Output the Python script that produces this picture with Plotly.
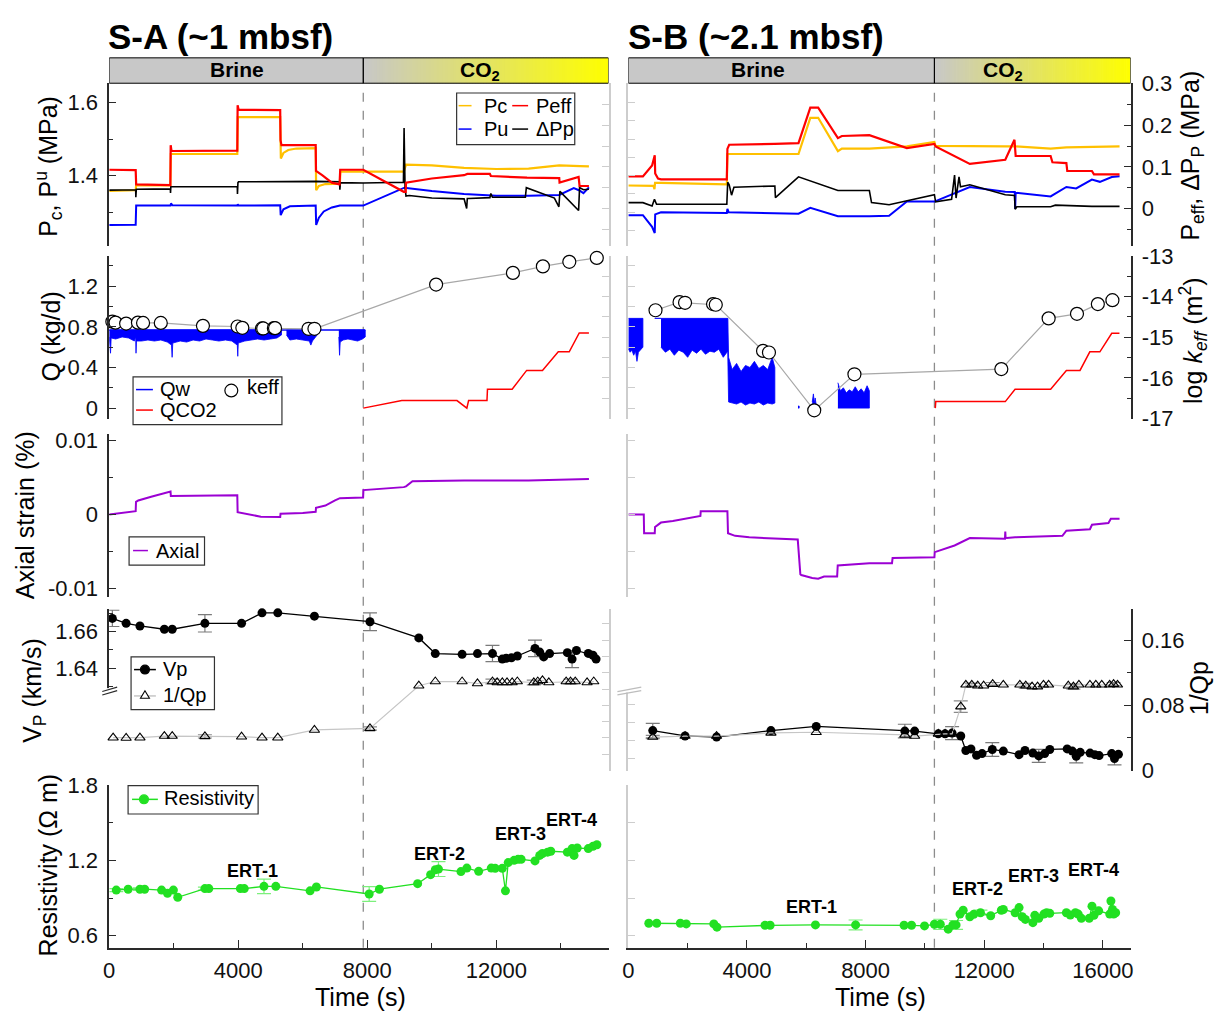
import plotly.graph_objects as go

# ------------------------------------------------------------------
# Sample S-A (~1 mbsf)
# ------------------------------------------------------------------
# confining pressure Pc and upstream pore pressure Pu (MPa)
PcA_t = [0, 820, 835, 1895, 1910, 3970, 3985, 5300, 5320, 5400, 5550, 5800, 6400, 6415, 6500, 6700,
         7150, 7165, 7875, 9130, 9200, 10000, 11000, 12000, 13000, 13950, 14600, 14870]
PcA = [1.358, 1.360, 1.374, 1.373, 1.459, 1.459, 1.560, 1.560, 1.447, 1.462, 1.470, 1.474, 1.475, 1.360,
       1.372, 1.377, 1.378, 1.411, 1.411, 1.411, 1.430, 1.428, 1.421, 1.418, 1.419, 1.428, 1.426, 1.425]
PuA_t = [0, 820, 835, 1900, 1915, 1960, 3975, 3985, 4000, 5300, 5315, 5400, 5600, 6400, 6415, 6500,
         6650, 6900, 7150, 7875, 9150, 10000, 11000, 12000, 13000, 13950, 14400, 14560, 14700, 14870]
PuA = [1.265, 1.266, 1.318, 1.318, 1.324, 1.319, 1.318, 1.322, 1.318, 1.319, 1.292, 1.308, 1.316, 1.318,
       1.265, 1.285, 1.302, 1.313, 1.318, 1.318, 1.367, 1.358, 1.350, 1.345, 1.345, 1.347, 1.366, 1.360,
       1.352, 1.368]
# effective pressure Peff and differential pore pressure dPp (MPa)
PeffA_t = [0, 820, 835, 1895, 1905, 1930, 3970, 3980, 4010, 5300, 5310, 5340, 6400, 6410, 6600, 6900,
           7140, 7160, 7875, 9130, 9190, 9200, 10000, 11000, 11100, 11800, 11830, 12900, 12950, 13950,
           13960, 14550, 14580, 14870]
PeffA = [0.093, 0.092, 0.058, 0.056, 0.152, 0.138, 0.139, 0.248, 0.237, 0.236, 0.164, 0.152, 0.152,
         0.090, 0.080, 0.062, 0.058, 0.093, 0.093, 0.040, 0.040, 0.062, 0.072, 0.080, 0.083, 0.083,
         0.078, 0.075, 0.074, 0.073, 0.062, 0.076, 0.054, 0.054]
dPpA_t = [0, 820, 825, 840, 1895, 1900, 1910, 3970, 3975, 3990, 4010, 5300, 6400, 7140, 7150, 7165,
          7875, 9120, 9140, 9170, 9200, 9300, 10000, 11000, 11080, 11100, 11150, 11800, 11830, 11880,
          12900, 12930, 13800, 13940, 13970, 14550, 14580, 14700, 14870]
dPpA = [0.044, 0.045, 0.027, 0.046, 0.047, 0.037, 0.052, 0.052, 0.035, 0.062, 0.064, 0.065, 0.065,
        0.064, 0.045, 0.062, 0.061, 0.063, 0.193, 0.050, 0.030, 0.031, 0.025, 0.023, 0.000, 0.024,
        0.024, 0.026, 0.036, 0.027, 0.027, 0.050, 0.025, 0.004, 0.041, -0.005, 0.050, 0.045, 0.046]

# brine flow rate Qw (kg/d): upper limit and lower envelope of each recorded block
QwA_top = 0.768
QwA_seg_t = [
    [0, 25, 40, 60, 200, 400, 600, 780, 820, 830, 845, 1000, 1200, 1400, 1600, 1800, 1930, 1950, 1970,
     2200, 2400, 2600, 2800, 3000, 3200, 3400, 3600, 3800, 3970, 3985, 4000, 4200, 4400, 4600, 4800,
     5000, 5200, 5340],
    [5494, 5600, 5800, 6000, 6200, 6250, 6300, 6446],
    [7117, 7140, 7160, 7250, 7400, 7550, 7700, 7850, 7936],
]
QwA_seg_lo = [
    [0.70, 0.62, 0.54, 0.69, 0.68, 0.70, 0.69, 0.66, 0.70, 0.54, 0.66, 0.66, 0.67, 0.66, 0.67, 0.65,
     0.62, 0.50, 0.64, 0.66, 0.65, 0.67, 0.66, 0.68, 0.67, 0.66, 0.67, 0.66, 0.62, 0.51, 0.64, 0.66,
     0.67, 0.68, 0.67, 0.68, 0.69, 0.72],
    [0.72, 0.67, 0.68, 0.67, 0.66, 0.62, 0.66, 0.72],
    [0.70, 0.52, 0.65, 0.67, 0.68, 0.67, 0.66, 0.68, 0.70],
]
# CO2 flow rate (kg/d)
QCO2A_t = [7875, 9070, 10780, 11086, 11140, 11710, 11725, 12490, 12940, 13430, 13920, 14260, 14570, 14870]
QCO2A = [0.0, 0.074, 0.074, 0.0, 0.074, 0.074, 0.186, 0.186, 0.371, 0.371, 0.554, 0.554, 0.739, 0.739]
# effective permeability, log10 (m2)
KA_t = [97, 195, 524, 890, 1049, 1598, 2905, 3979, 4126, 4736, 4773, 5103, 5140, 6177, 6361, 10133,
        12514, 13443, 14262, 15114]
KA = [-14.616, -14.64, -14.664, -14.64, -14.648, -14.648, -14.72, -14.736, -14.768, -14.784, -14.784,
      -14.776, -14.776, -14.792, -14.792, -13.704, -13.416, -13.256, -13.144, -13.048]

# axial strain (%)
StrA_t = [0, 820, 830, 900, 1300, 1700, 1900, 1910, 3970, 3980, 4300, 4700, 5300, 5310, 6000, 6400,
          6410, 6700, 7000, 7150, 7870, 7880, 9130, 9200, 9400, 11000, 13000, 14870]
StrA = [0.0, 0.00044, 0.0017, 0.0019, 0.0024, 0.0028, 0.0031, 0.0025, 0.0026, 0.0003, 0.0, -0.0003,
        -0.00035, 0.0001, 0.0002, 0.00035, 0.0009, 0.0012, 0.0019, 0.0022, 0.0023, 0.0033, 0.0037,
        0.0038, 0.0045, 0.0046, 0.0046, 0.0048]

# P-wave velocity (km/s) and attenuation 1/Qp
VpA_t = [97, 524, 952, 1709, 1953, 2966, 4102, 4736, 5225, 6361, 8083, 9597, 10108, 10939, 11415, 11880,
         12185, 12307, 12468, 12651, 13198, 13345, 13468, 13651, 14201, 14348, 14483, 14850, 14995, 15092]
VpA = [1.6671, 1.6644, 1.663, 1.6612, 1.6612, 1.6644, 1.6644, 1.6701, 1.6701, 1.6683, 1.6653, 1.6565,
       1.648, 1.6476, 1.648, 1.648, 1.645, 1.6455, 1.6457, 1.6467, 1.6508, 1.6488, 1.6462, 1.648,
       1.6485, 1.645, 1.6497, 1.6481, 1.6471, 1.645]
VpA_err = [0.0044, 0, 0, 0, 0, 0.0047, 0, 0, 0, 0, 0.0048, 0, 0, 0, 0, 0.0044, 0, 0, 0, 0,
           0.0045, 0, 0, 0, 0, 0.0046, 0, 0, 0, 0]
IqA_t = [121, 524, 952, 1709, 1953, 2966, 4102, 4736, 5225, 6361, 8083, 9597, 10108, 10939, 11415, 11880,
         12025, 12185, 12331, 12490, 12651, 13161, 13284, 13430, 13627, 14164, 14299, 14446, 14813, 15020]
IqA = [0.0402, 0.0398, 0.0402, 0.0422, 0.0422, 0.0418, 0.0414, 0.0402, 0.0402, 0.0497, 0.0516, 0.104,
       0.1092, 0.1092, 0.1068, 0.1092, 0.108, 0.108, 0.108, 0.108, 0.1092, 0.108, 0.1092, 0.1107, 0.108,
       0.1092, 0.1092, 0.1092, 0.108, 0.1092]
IqA_err = [0, 0, 0, 0, 0, 0.002, 0, 0, 0, 0, 0.002, 0, 0, 0, 0, 0.003, 0, 0, 0, 0,
           0, 0.003, 0, 0, 0, 0, 0.003, 0, 0, 0]

# bulk resistivity (ohm m)
ResA_t = [218, 586, 952, 1098, 1623, 1806, 1989, 2124, 2966, 3088, 4065, 4187, 4797, 5164, 6227, 6422,
          8058, 8375, 9560, 9963, 10108, 10206, 10903, 11086, 11452, 11843, 11965, 12185, 12282, 12368,
          12551, 12673, 12770, 13198, 13345, 13430, 13589, 13687, 14201, 14348, 14409, 14507, 14850,
          14995, 15117]
ResA = [0.963, 0.97, 0.97, 0.97, 0.963, 0.937, 0.963, 0.906, 0.975, 0.975, 0.975, 0.975, 0.993, 0.993,
        0.957, 0.988, 0.932, 0.97, 1.014, 1.086, 1.125, 1.13, 1.11, 1.138, 1.112, 1.138, 1.136, 1.136,
        0.957, 1.182, 1.2, 1.208, 1.208, 1.195, 1.239, 1.254, 1.265, 1.272, 1.265, 1.293, 1.239, 1.298,
        1.293, 1.311, 1.324]
ResA_err = [0.012, 0, 0.01, 0, 0, 0, 0, 0, 0.012, 0, 0, 0, 0.058, 0, 0, 0, 0.059, 0, 0, 0, 0, 0.059,
            0, 0, 0, 0, 0, 0, 0, 0, 0, 0, 0, 0, 0, 0, 0, 0, 0, 0, 0, 0, 0, 0, 0]

# ------------------------------------------------------------------
# Sample S-B (~2.1 mbsf)
# ------------------------------------------------------------------
PcB_t = [0, 850, 880, 900, 1100, 3320, 3340, 4940, 5737, 6135, 6401, 7066, 7200, 8127, 9390, 10320,
         10360, 12710, 13043, 14238, 14770, 16563]
PcB = [1.373, 1.372, 1.363, 1.380, 1.380, 1.376, 1.459, 1.459, 1.459, 1.558, 1.558, 1.467, 1.474, 1.474,
       1.480, 1.492, 1.481, 1.480, 1.480, 1.474, 1.477, 1.480]
PuB_t = [0, 491, 800, 890, 905, 1100, 3320, 3340, 3380, 4940, 5737, 6135, 7066, 8127, 8792, 9390, 10320,
         11514, 12710, 13030, 13043, 13060, 14238, 14770, 15100, 15631, 15900, 16300, 16563]
PuB = [1.292, 1.292, 1.260, 1.243, 1.294, 1.300, 1.298, 1.309, 1.300, 1.296, 1.296, 1.312, 1.289, 1.289,
       1.290, 1.329, 1.329, 1.369, 1.356, 1.355, 1.309, 1.353, 1.343, 1.369, 1.365, 1.389, 1.383, 1.396,
       1.398]
PeffB_t = [0, 491, 800, 890, 905, 1000, 1100, 3320, 3340, 3400, 4940, 5737, 6135, 6401, 7066, 7200, 8127,
           9390, 10320, 10360, 11514, 12710, 13020, 13060, 14238, 14300, 14770, 14800, 15631, 15700, 16563]
PeffB = [0.077, 0.077, 0.103, 0.128, 0.084, 0.072, 0.070, 0.070, 0.143, 0.153, 0.155, 0.157, 0.242,
         0.242, 0.169, 0.174, 0.176, 0.145, 0.155, 0.149, 0.107, 0.117, 0.165, 0.126, 0.126, 0.111,
         0.109, 0.090, 0.090, 0.082, 0.082]
dPpB_t = [0, 491, 800, 880, 950, 1100, 3320, 3350, 3400, 3480, 3560, 4940, 4960, 5737, 7066, 8127, 8200,
          8792, 10320, 10360, 10900, 11000, 11050, 11150, 11200, 11514, 12710, 13020, 13043, 13100,
          14238, 14400, 15631, 16563]
dPpB = [0.014, 0.014, 0.006, 0.022, 0.010, 0.010, 0.010, 0.063, 0.057, 0.032, 0.051, 0.054, 0.026,
        0.076, 0.043, 0.043, 0.014, 0.009, 0.033, 0.016, 0.022, 0.080, 0.025, 0.076, 0.052, 0.057,
        0.033, 0.031, -0.002, 0.004, 0.004, 0.008, 0.005, 0.005]

# brine flow rate blocks: time, upper and lower envelope (kg/d)
QwB_seg_t = [
    [0, 60, 120, 180, 240, 290, 340, 400, 491],
    [890, 1100],
    [1100, 1250, 1400, 1550, 1700, 1850, 2000, 2150, 2300, 2450, 2600, 2750, 2900, 3050, 3200, 3350],
    [3350, 3380, 3500, 3650, 3800, 3950, 4100, 4250, 4400, 4550, 4700, 4850, 4940],
    [5720, 5760],
    [6200, 6240, 6270, 6300, 6330],
    [7066, 7150, 7250, 7350, 7450, 7550, 7650, 7750, 7850, 7950, 8050, 8127],
]
QwB_seg_hi = [
    [0.883] * 9,
    [0.883, 0.883],
    [0.883] * 16,
    [0.883, 0.50, 0.38, 0.44, 0.36, 0.42, 0.40, 0.46, 0.39, 0.42, 0.38, 0.50, 0.40],
    [0.02, 0.02],
    [0.06, 0.14, 0.05, 0.10, 0.04],
    [0.25, 0.17, 0.20, 0.15, 0.18, 0.16, 0.21, 0.16, 0.19, 0.15, 0.22, 0.17],
]
QwB_seg_lo = [
    [0.58, 0.55, 0.57, 0.52, 0.56, 0.46, 0.55, 0.57, 0.60],
    [0.883, 0.883],
    [0.60, 0.55, 0.58, 0.52, 0.57, 0.55, 0.50, 0.57, 0.54, 0.58, 0.53, 0.56, 0.55, 0.58, 0.50, 0.56],
    [0.56, 0.06, 0.05, 0.04, 0.06, 0.03, 0.05, 0.04, 0.06, 0.03, 0.05, 0.04, 0.05],
    [0.0, 0.0],
    [0.0, 0.0, 0.0, 0.0, 0.0],
    [0.0] * 12,
]
QCO2B_t = [10350, 10365, 12710, 13040, 14240, 14770, 15230, 15560, 15900, 16300, 16560]
QCO2B = [0.0, 0.064, 0.064, 0.186, 0.186, 0.371, 0.371, 0.554, 0.554, 0.736, 0.736]
KB_t = [916, 1726, 1912, 2855, 2948, 4542, 4741, 6268, 7623, 12577, 14172, 15128, 15831, 16323]
KB = [-14.336, -14.136, -14.152, -14.184, -14.2, -15.336, -15.376, -16.8, -15.912, -15.784, -14.536,
      -14.424, -14.184, -14.088]

StrB_t = [0, 520, 531, 890, 900, 1100, 1500, 2000, 2430, 2440, 3340, 3360, 3600, 4077, 4940, 5712, 5800,
          5830, 6200, 6401, 6600, 7040, 7060, 8127, 8890, 8910, 10320, 10330, 11000, 11514, 12700, 12710,
          12720, 12760, 13043, 14636, 14770, 15564, 15634, 16188, 16270, 16563]
StrB = [0.0, 0.0, -0.00255, -0.00255, -0.0017, -0.0011, -0.0009, -0.0005, -0.0002, 0.00044, 0.00044,
        -0.00255, -0.0029, -0.0031, -0.0033, -0.0034, -0.0081, -0.0082, -0.0086, -0.0087, -0.0084,
        -0.0084, -0.0069, -0.0066, -0.0066, -0.0059, -0.0058, -0.0051, -0.0042, -0.0032, -0.0033,
        -0.0023, -0.0031, -0.0032, -0.0031, -0.0029, -0.0022, -0.0020, -0.0014, -0.00115, -0.00057,
        -0.00057]

VpB_t = [823, 1912, 2975, 4808, 6335, 9323, 9654, 10452, 10679, 10917, 11209, 11380, 11552, 11742, 11927,
         12272, 12644, 13175, 13374, 13640, 13839, 14038, 14211, 14797, 14970, 15103, 15236, 15569, 15728,
         15874, 16300, 16393, 16526]
VpB = [1.4257, 1.4227, 1.4221, 1.4257, 1.428, 1.4254, 1.4254, 1.4239, 1.4239, 1.4243, 1.4227, 1.4146,
       1.4155, 1.412, 1.4129, 1.4152, 1.4143, 1.4123, 1.4146, 1.4132, 1.4116, 1.4129, 1.4152, 1.4155,
       1.4143, 1.4114, 1.4136, 1.4132, 1.4123, 1.4118, 1.4129, 1.4102, 1.4125]
VpB_err = [0.004, 0, 0, 0, 0, 0.0038, 0, 0, 0, 0.0036, 0, 0, 0, 0, 0, 0.0038, 0, 0, 0, 0, 0.0036,
           0, 0, 0, 0, 0.0036, 0, 0, 0, 0, 0, 0.0036, 0]
IqB_t = [823, 1912, 2975, 4808, 6335, 9323, 9654, 10452, 10679, 10917, 11209, 11380, 11580, 11780, 11980,
         12285, 12644, 13201, 13400, 13613, 13799, 13998, 14171, 14834, 15007, 15193, 15564, 15763, 15963,
         16229, 16362, 16495]
IqB = [0.041, 0.0422, 0.0422, 0.0461, 0.0469, 0.0437, 0.0422, 0.0449, 0.0449, 0.0449, 0.0784, 0.1052,
       0.1052, 0.104, 0.104, 0.106, 0.1052, 0.1052, 0.104, 0.1029, 0.1029, 0.1052, 0.1052, 0.104,
       0.1029, 0.1052, 0.1052, 0.1052, 0.1052, 0.1052, 0.106, 0.1052]
IqB_err = [0.002, 0, 0, 0, 0, 0, 0, 0, 0, 0, 0.007, 0, 0.002, 0, 0, 0.002, 0, 0, 0.003, 0, 0, 0,
           0, 0, 0.003, 0, 0, 0, 0, 0, 0.002, 0]

ResB_t = [690, 956, 1753, 1952, 2882, 2988, 4608, 4781, 6309, 7663, 9297, 9549, 9987, 10320, 10519, 10785,
          10944, 11050, 11183, 11289, 11514, 11647, 11873, 12218, 12577, 12644, 13043, 13175, 13281, 13387,
          13640, 13706, 13839, 14012, 14105, 14211, 14770, 14903, 15076, 15169, 15276, 15541, 15634, 15701,
          15860, 16232, 16272, 16325, 16365, 16432]
ResB = [0.699, 0.699, 0.699, 0.694, 0.694, 0.668, 0.683, 0.683, 0.686, 0.686, 0.683, 0.683, 0.678,
        0.691, 0.691, 0.652, 0.686, 0.686, 0.772, 0.803, 0.751, 0.770, 0.783, 0.759, 0.803, 0.809, 0.783,
        0.824, 0.751, 0.730, 0.704, 0.762, 0.738, 0.772, 0.783, 0.778, 0.783, 0.764, 0.783, 0.772, 0.738,
        0.738, 0.835, 0.762, 0.798, 0.772, 0.876, 0.809, 0.772, 0.783]
ResB_err = [0, 0, 0, 0, 0, 0, 0, 0, 0, 0.039, 0, 0, 0, 0, 0.04, 0, 0, 0.035, 0, 0, 0, 0, 0.02, 0, 0,
            0, 0, 0, 0, 0, 0, 0, 0, 0, 0, 0, 0, 0, 0, 0, 0, 0, 0, 0, 0, 0, 0, 0, 0, 0]

# ------------------------------------------------------------------
# page geometry (pixels) and styling
# ------------------------------------------------------------------
W, H = 1215, 1027
FONT = "Liberation Sans, Arial, Helvetica, sans-serif"
DARK = "#2a2a2a"
LIGHT = "#cdcdcd"
C_PC, C_PEFF, C_PU, C_DPP = "#ffc000", "#ff0000", "#0000ff", "#000000"
C_AX = "#9b00d3"
C_RES = "#22e022"

R1, R2, R3, R4, R5 = (73, 240), (250, 416.7), (432.7, 600), (611.5, 778), (792, 959)
BRK = 695
HEAD = (47, 73)

COLS = [
    dict(x="x", px=(104, 607), tmax=15477, tco2=7875),
    dict(x="x2", px=(627, 1133), tmax=16936, tco2=10320),
]


def fx(p):
    return p / W


def fy(p):
    return 1 - p / H


def dom(top, bottom):
    return [fy(bottom), fy(top)]


axes = {}


def add_y(spec):
    n = sum(1 for k in axes if k.startswith("yaxis")) + 1
    axes["yaxis" if n == 1 else "yaxis%d" % n] = spec
    return "y" if n == 1 else "y%d" % n


def axis_style(dark, ticks, labels=None, minor=None):
    col = DARK if dark else LIGHT
    d = dict(showline=True, linecolor=col, linewidth=1.5, showgrid=False, zeroline=False,
             ticks="inside", ticklen=7, tickwidth=1.3, tickcolor=col, tickmode="array",
             tickvals=ticks, fixedrange=True,
             tickfont=dict(family=FONT, size=22, color="#111111"))
    if labels:
        d.update(ticktext=labels, showticklabels=True, ticklabelstandoff=5)
    else:
        d.update(showticklabels=False)
    if minor:
        d["minor"] = dict(tickmode="array", tickvals=minor, ticks="inside", ticklen=4,
                          tickwidth=1.2, tickcolor=col, showgrid=False)
    return d


TK_P = [1.25, 1.3, 1.35, 1.4, 1.45, 1.5, 1.55, 1.6, 1.65]
TK_PE = [-0.05, 0, 0.05, 0.1, 0.15, 0.2, 0.25]
TK_Q = [0, 0.2, 0.4, 0.6, 0.8, 1.0, 1.2, 1.4]
TK_K = [-17, -16.5, -16, -15.5, -15, -14.5, -14, -13.5, -13]
TK_S = [-0.01, -0.005, 0, 0.005, 0.01]
TK_R = [0.6, 0.9, 1.2, 1.5, 1.8]

AX = []
for c, col in enumerate(COLS):
    xa = col["x"]
    main = c == 0
    a = {}
    a["p"] = add_y(dict(domain=dom(*R1), range=[1.2072, 1.6525], side="left", anchor=xa,
                        **(axis_style(True, [1.4, 1.6], ["1.4", "1.6"], [1.3, 1.5]) if main
                           else axis_style(False, TK_P))))
    a["pe"] = add_y(dict(overlaying=a["p"], range=[-0.0905, 0.3008], side="right", anchor=xa,
                         **(axis_style(False, TK_PE) if main else
                            axis_style(True, [0, 0.1, 0.2, 0.3], ["0", "0.1", "0.2", "0.3"],
                                       [-0.05, 0.05, 0.15, 0.25]))))
    a["q"] = add_y(dict(domain=dom(*R2), range=[-0.1027, 1.4976], side="left", anchor=xa,
                        **(axis_style(True, [0, 0.4, 0.8, 1.2], ["0", "0.4", "0.8", "1.2"],
                                      [0.2, 0.6, 1.0, 1.4]) if main else axis_style(False, TK_Q))))
    a["k"] = add_y(dict(overlaying=a["q"], range=[-17.002, -12.998], side="right", anchor=xa,
                        **(axis_style(False, TK_K) if main else
                           axis_style(True, [-17, -16, -15, -14, -13], ["-17", "-16", "-15", "-14", "-13"],
                                      [-16.5, -15.5, -14.5, -13.5]))))
    a["s"] = add_y(dict(domain=dom(*R3), range=[-0.01123, 0.01087], side="left", anchor=xa,
                        **(axis_style(True, [-0.01, 0, 0.01], ["-0.01", "0", "0.01"], [-0.005, 0.005])
                           if main else axis_style(False, TK_S))))
    a["s2"] = add_y(dict(overlaying=a["s"], range=[-0.01123, 0.01087], side="right", anchor=xa,
                         **axis_style(not main, TK_S)))
    a["vu"] = add_y(dict(domain=dom(R4[0], BRK), range=[1.6282, 1.6724], side="left", anchor=xa,
                         **(axis_style(True, [1.64, 1.66], ["1.64", "1.66"], [1.63, 1.65, 1.67]) if main
                            else axis_style(False, [1.63, 1.64, 1.65, 1.66, 1.67]))))
    a["vl"] = add_y(dict(domain=dom(BRK, R4[1]), range=[1.4032, 1.4482], side="left", anchor=xa,
                         **(axis_style(True, [1.42, 1.44], ["1.42", "1.44"], [1.41, 1.43]) if main
                            else axis_style(False, [1.41, 1.42, 1.43, 1.44]))))
    a["iq"] = add_y(dict(domain=dom(*R4), range=[-0.0008, 0.1988], side="right", anchor=xa,
                         **(axis_style(False, [0.02, 0.04, 0.06, 0.08, 0.1, 0.12, 0.14, 0.16, 0.18]) if main
                            else axis_style(True, [0, 0.08, 0.16], ["0", "0.08", "0.16"], [0.04, 0.12]))))
    a["r"] = add_y(dict(domain=dom(*R5), range=[0.505, 1.8015], side="left", anchor=xa,
                        **(axis_style(True, [0.6, 1.2, 1.8], ["0.6", "1.2", "1.8"], [0.9, 1.5]) if main
                           else axis_style(False, TK_R))))
    a["r2"] = add_y(dict(overlaying=a["r"], range=[0.505, 1.8015], side="right", anchor=xa,
                         **axis_style(not main, TK_R)))
    AX.append(a)

xticks = [[0, 4000, 8000, 12000], [0, 4000, 8000, 12000, 16000]]
xminor = [[2000, 6000, 10000, 14000], [2000, 6000, 10000, 14000]]
for c, col in enumerate(COLS):
    key = "xaxis" if c == 0 else "xaxis2"
    axes[key] = dict(domain=[fx(col["px"][0]), fx(col["px"][1])], range=[0, col["tmax"]],
                     anchor=AX[c]["r"], showline=True, linecolor=DARK, linewidth=1.5,
                     showgrid=False, zeroline=False, ticks="inside", ticklen=8, tickwidth=1.3,
                     tickcolor=DARK, tickmode="array", tickvals=xticks[c],
                     ticktext=[str(v) for v in xticks[c]], ticklabelstandoff=2, fixedrange=True,
                     tickfont=dict(family=FONT, size=22, color="#111111"),
                     minor=dict(tickmode="array", tickvals=xminor[c], ticks="inside", ticklen=5,
                                tickwidth=1.2, tickcolor=DARK, showgrid=False))

fig = go.Figure()


def lines(x, y, xa, ya, color, width=1.5):
    fig.add_trace(go.Scatter(x=x, y=y, xaxis=xa, yaxis=ya, mode="lines",
                             line=dict(color=color, width=width), hoverinfo="skip"))


def band(seg_t, seg_hi, seg_lo, xa, ya, color):
    xs, ys = [], []
    for t, hi, lo in zip(seg_t, seg_hi, seg_lo):
        xs += list(t) + list(t[::-1]) + [None]
        ys += list(hi) + list(lo[::-1]) + [None]
    fig.add_trace(go.Scatter(x=xs, y=ys, xaxis=xa, yaxis=ya, mode="lines", fill="toself",
                             fillcolor=color, line=dict(color=color, width=0.8), hoverinfo="skip"))


def errbars(x, y, err, xa, ya, color):
    idx = [i for i, e in enumerate(err) if e > 0]
    fig.add_trace(go.Scatter(x=[x[i] for i in idx], y=[y[i] for i in idx], xaxis=xa, yaxis=ya,
                             mode="markers", marker=dict(size=1, opacity=0), cliponaxis=False,
                             error_y=dict(type="data", array=[err[i] for i in idx], color=color,
                                          thickness=1.2, width=7), hoverinfo="skip"))


def points(x, y, xa, ya, lcolor, marker, lwidth=1.3):
    fig.add_trace(go.Scatter(x=x, y=y, xaxis=xa, yaxis=ya, mode="lines+markers",
                             line=dict(color=lcolor, width=lwidth), marker=marker,
                             cliponaxis=False, hoverinfo="skip"))


SETS = [
    dict(pc=(PcA_t, PcA), pu=(PuA_t, PuA), pe=(PeffA_t, PeffA), dp=(dPpA_t, dPpA),
         qco2=(QCO2A_t, QCO2A), k=(KA_t, KA), s=(StrA_t, StrA),
         vp=(VpA_t, VpA, VpA_err), iq=(IqA_t, IqA, IqA_err), res=(ResA_t, ResA, ResA_err), vax="vu"),
    dict(pc=(PcB_t, PcB), pu=(PuB_t, PuB), pe=(PeffB_t, PeffB), dp=(dPpB_t, dPpB),
         qco2=(QCO2B_t, QCO2B), k=(KB_t, KB), s=(StrB_t, StrB),
         vp=(VpB_t, VpB, VpB_err), iq=(IqB_t, IqB, IqB_err), res=(ResB_t, ResB, ResB_err), vax="vl"),
]

for c, col in enumerate(COLS):
    xa, a, d = col["x"], AX[c], SETS[c]
    # pressures
    lines(*d["pu"], xa, a["p"], C_PU, 2.0)
    lines(*d["pc"], xa, a["p"], C_PC, 2.2)
    lines(*d["dp"], xa, a["pe"], C_DPP, 1.6)
    lines(*d["pe"], xa, a["pe"], C_PEFF, 2.2)
    # flow rates and permeability
    if c == 0:
        band(QwA_seg_t, [[QwA_top] * len(t) for t in QwA_seg_t], QwA_seg_lo, xa, a["q"], C_PU)
        lines([QwA_seg_t[0][0], QwA_seg_t[-1][-1]], [QwA_top, QwA_top], xa, a["q"], C_PU, 1.4)
    else:
        band(QwB_seg_t, QwB_seg_hi, QwB_seg_lo, xa, a["q"], C_PU)
    lines(*d["qco2"], xa, a["q"], C_PEFF, 1.5)
    points(*d["k"], xa, a["k"], "#a8a8a8",
           dict(symbol="circle", size=13, color="white", line=dict(color="black", width=1.2)), 1.2)
    # axial strain
    lines(*d["s"], xa, a["s"], C_AX, 2.0)
    # velocity and attenuation
    t, v, e = d["iq"]
    errbars(t, v, e, xa, a["iq"], "#8a8a8a")
    points(t, v, xa, a["iq"], "#c6c6c6",
           dict(symbol="triangle-up-open", size=9, color="black", line=dict(color="black", width=1.1)), 1.2)
    t, v, e = d["vp"]
    errbars(t, v, e, xa, a[d["vax"]], "#7a7a7a")
    points(t, v, xa, a[d["vax"]], "black", dict(symbol="circle", size=9, color="black"), 1.3)
    # resistivity
    t, v, e = d["res"]
    errbars(t, v, e, xa, a["r"], "#7cf07c")
    points(t, v, xa, a["r"], C_RES, dict(symbol="circle", size=9, color=C_RES), 1.3)

# ------------------------------------------------------------------
# decorations: header bars, dashed injection line, legends, labels
# ------------------------------------------------------------------
shapes, annos = [], []


def text(x, y, s, size=20, anchor="left", angle=0, bold=False):
    annos.append(dict(xref="paper", yref="paper", x=fx(x), y=fy(y), text=("<b>%s</b>" % s) if bold else s,
                      showarrow=False, xanchor=anchor, yanchor="middle", textangle=angle,
                      font=dict(family=FONT, size=size, color="black")))


for c, col in enumerate(COLS):
    xa = col["x"]
    t0, t1 = col["tco2"], col["tmax"]
    shapes.append(dict(type="line", xref=xa, yref="paper", x0=t0, x1=t0, y0=fy(R5[1]), y1=fy(HEAD[1]),
                       line=dict(color="#8c8c8c", width=1.3, dash="dash"), layer="below"))
    shapes.append(dict(type="rect", xref=xa, yref="paper", x0=0, x1=t0, y0=fy(HEAD[1]), y1=fy(HEAD[0]),
                       fillcolor="#c8c8c8", line=dict(width=0), layer="above"))
    n = 90
    span = t1 - t0
    for i in range(n):
        f = (i + 0.5) / n
        rgb = (int(200 + 55 * f), int(200 + 55 * f), int(200 * (1 - f)))
        shapes.append(dict(type="rect", xref=xa, yref="paper", x0=t0 + span * i / n,
                           x1=min(t1, t0 + span * (i + 1.3) / n), y0=fy(HEAD[1]), y1=fy(HEAD[0]),
                           fillcolor="rgb(%d,%d,%d)" % rgb, line=dict(width=0), layer="above"))
    for x0, x1 in ((0, t0), (t0, t1)):
        shapes.append(dict(type="rect", xref=xa, yref="paper", x0=x0, x1=x1, y0=fy(HEAD[1]),
                           y1=fy(HEAD[0]), fillcolor="rgba(0,0,0,0)",
                           line=dict(color="black", width=1), layer="above"))

text(233, 59, "Brine", 21, "center", bold=True)
text(478, 60, "CO<sub>2</sub>", 21, "center", bold=True)
text(758, 59, "Brine", 21, "center", bold=True)
text(1004, 60, "CO<sub>2</sub>", 21, "center", bold=True)
text(101, 25, "S-A (~1 mbsf)", 35, "left", bold=True)
text(625, 25, "S-B (~2.1 mbsf)", 35, "left", bold=True)

# axis titles
text(43, 158, "P<sub>c</sub>, P<sup>u</sup> (MPa)", 25, "center", -90)
text(45, 333, "Q (kg/d)", 25, "center", -90)
text(20, 516, "Axial strain (%)", 25, "center", -90)
text(28, 695, "V<sub>P</sub> (km/s)", 25, "center", -90)
text(42, 874, "Resistivity (\u03a9 m)", 25, "center", -90)
text(1195, 147, "P<sub>eff</sub>, \u0394P<sub>P</sub> (MPa)", 25, "center", -90)
text(1196, 337, "log <i>k<sub>eff</sub></i> (m<sup>2</sup>)", 25, "center", -90)
text(1202, 693, "1/Qp", 25, "center", -90)
text(357, 1010, "Time (s)", 25, "center")
text(881, 1010, "Time (s)", 25, "center")

# ERT survey labels
for x, y, s in [(248, 880, "ERT-1"), (437, 863, "ERT-2"), (518, 843, "ERT-3"), (570, 828, "ERT-4"),
                (812, 917, "ERT-1"), (979, 899, "ERT-2"), (1035, 886, "ERT-3"), (1096, 879, "ERT-4")]:
    text(x, y, s, 18, "center", bold=True)

# axis break marks on the velocity axes
for (xa, xb, colr) in ((97, 112, DARK), (616, 640, "#bdbdbd")):
    shapes.append(dict(type="rect", xref="paper", yref="paper", x0=fx(xa + 3), x1=fx(xb - 3),
                       y0=fy(697.5), y1=fy(693), fillcolor="white", line=dict(width=0), layer="above"))
    for dy in (0, 3.5):
        shapes.append(dict(type="line", xref="paper", yref="paper", x0=fx(xa), x1=fx(xb),
                           y0=fy(696.5 + dy), y1=fy(692 + dy), line=dict(color=colr, width=1.2),
                           layer="above"))


def lg_box(x0, y0, x1, y1):
    shapes.append(dict(type="rect", xref="paper", yref="paper", x0=fx(x0), x1=fx(x1), y0=fy(y1),
                       y1=fy(y0), fillcolor="white", line=dict(color="#333333", width=1.2), layer="above"))


def lg_line(x0, x1, y, color, width=1.5):
    shapes.append(dict(type="line", xref="paper", yref="paper", x0=fx(x0), x1=fx(x1), y0=fy(y), y1=fy(y),
                       line=dict(color=color, width=width), layer="above"))


def lg_circle(cx, cy, r, fill, edge):
    shapes.append(dict(type="circle", xref="paper", yref="paper", x0=fx(cx - r), x1=fx(cx + r),
                       y0=fy(cy + r), y1=fy(cy - r), fillcolor=fill, line=dict(color=edge, width=1.2),
                       layer="above"))


def lg_triangle(cx, cy, s):
    path = "M %f %f L %f %f L %f %f Z" % (fx(cx - s), fy(cy + 0.75 * s), fx(cx + s), fy(cy + 0.75 * s),
                                           fx(cx), fy(cy - 0.95 * s))
    shapes.append(dict(type="path", xref="paper", yref="paper", path=path, fillcolor="white",
                       line=dict(color="black", width=1.1), layer="above"))


# pressures legend
lg_box(454, 83, 573, 136)
lg_line(456, 469, 96, C_PC)
text(480, 96, "Pc", 20)
lg_line(510, 526, 96, C_PEFF)
text(532, 96, "Peff", 20)
lg_line(456, 469, 120, C_PU)
text(480, 120, "Pu", 20)
lg_line(510, 526, 120, C_DPP)
text(532, 120, "\u0394Pp", 20)
# flow legend
lg_box(128, 374, 278, 423)
lg_line(131, 148, 387, C_PU)
text(153, 386, "Qw", 20)
lg_line(131, 148, 408, C_PEFF)
text(153, 408, "QCO2", 20)
lg_circle(227, 388, 6.5, "white", "black")
text(241, 384, "keff", 20)
# strain legend
lg_box(124, 538, 200, 567)
lg_line(128, 143, 552, C_AX)
text(149, 552, "Axial", 20)
# velocity legend
lg_box(126, 661, 210, 715)
lg_line(129, 151, 674, "black")
lg_circle(140, 674, 4.5, "black", "black")
text(156, 673, "Vp", 20)
lg_line(129, 151, 701, "#c6c6c6")
lg_triangle(140, 700, 4.5)
text(156, 700, "1/Qp", 20)
# resistivity legend
lg_box(123, 793, 254, 822)
lg_line(127, 153, 807, C_RES)
lg_circle(139, 807, 4.5, C_RES, C_RES)
text(157, 806, "Resistivity", 20)

fig.update_layout(width=W, height=H, margin=dict(l=0, r=0, t=0, b=0), paper_bgcolor="white",
                  plot_bgcolor="rgba(0,0,0,0)", showlegend=False, hovermode=False,
                  font=dict(family=FONT, size=20, color="black"),
                  shapes=shapes, annotations=annos, **axes)

fig.write_html("out.html", config={"displayModeBar": False})
